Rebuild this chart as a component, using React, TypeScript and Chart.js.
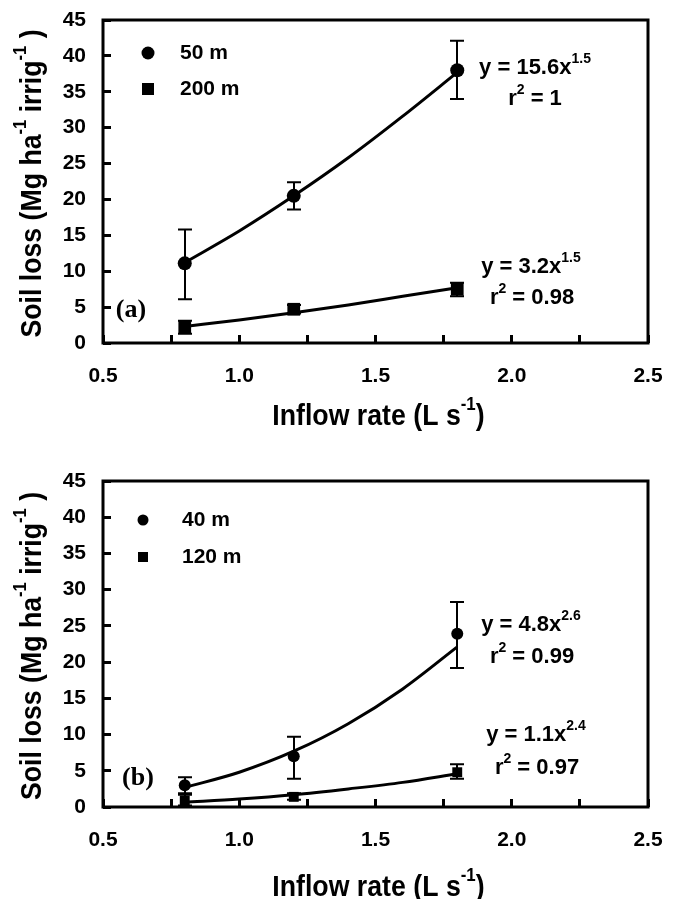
import React, { useEffect, useRef } from 'react';
import { Chart, registerables } from 'chart.js';

Chart.register(...registerables);

// ---------- data ----------
const inflowRates = [0.8, 1.2, 1.8];
const fitRates = [0.8, 1.0, 1.2, 1.4, 1.6, 1.8];

// Panel (a)
const a50Mean = [11.1, 20.5, 38.0];
const a50Low = [6.1, 18.6, 34.0];
const a50High = [15.8, 22.4, 42.1];
const a200Mean = [2.2, 4.7, 7.5];
const a200Low = [1.3, 4.1, 6.5];
const a200High = [3.1, 5.3, 8.4];
const a50Fit = [11.2, 15.6, 20.5, 25.8, 31.6, 37.7];
const a200Fit = [2.3, 3.2, 4.2, 5.3, 6.5, 7.7];

// Panel (b)
const b40Mean = [3.0, 7.0, 23.9];
const b40Low = [1.9, 3.9, 19.2];
const b40High = [4.1, 9.7, 28.3];
const b120Mean = [0.9, 1.4, 4.8];
const b120Low = [0.2, 1.0, 3.9];
const b120High = [1.7, 1.9, 5.9];
const b40Fit = [2.7, 4.8, 7.7, 11.5, 16.3, 22.1];
const b120Fit = [0.65, 1.1, 1.7, 2.5, 3.4, 4.6];

const xMin = 0.5;
const xMax = 2.5;
const xStep = 0.25;
const yMin = 0;
const yMax = 45;
const yStep = 5;

const SANS = '"Liberation Sans", Arial, sans-serif';
const SERIF = '"Liberation Serif", "Times New Roman", serif';

type Seg = { t: string; sup?: boolean };

function drawRich(
  ctx: CanvasRenderingContext2D,
  segs: Seg[],
  x: number,
  y: number,
  size: number,
  align: 'center' | 'left',
  rotate = false,
  family = SANS,
  squeeze = 1
) {
  ctx.save();
  ctx.translate(x, y);
  if (rotate) ctx.rotate(-Math.PI / 2);
  ctx.scale(squeeze, 1);
  const supSize = Math.round(size * 0.62);
  const mainFont = `bold ${size}px ${family}`;
  const supFont = `bold ${supSize}px ${family}`;
  let total = 0;
  const widths = segs.map((s) => {
    ctx.font = s.sup ? supFont : mainFont;
    const w = ctx.measureText(s.t).width;
    total += w;
    return w;
  });
  let cx = align === 'center' ? -total / 2 : 0;
  ctx.fillStyle = '#000';
  ctx.textBaseline = 'middle';
  ctx.textAlign = 'left';
  segs.forEach((s, i) => {
    ctx.font = s.sup ? supFont : mainFont;
    ctx.fillText(s.t, cx, s.sup ? -size * 0.42 : 0);
    cx += widths[i];
  });
  ctx.restore();
}

function pts(xs: number[], ys: number[]) {
  return xs.map((x, i) => ({ x, y: ys[i] }));
}

type Series = { mean: number[]; low: number[]; high: number[]; fit: number[]; label: string; r: number };

type PanelSpec = {
  height: number;
  top: number;
  bottom: number;
  left: number;
  right: number;
  xTitleY: number;
  yTitleX: number;
  s1: Series;
  s2: Series;
  legend: { x: number; y1: number; y2: number; textX: number; cr: number; sq: number };
  eqs: { segs: Seg[]; x: number; y: number }[];
  letter: { t: string; x: number; y: number };
};

const panelA: PanelSpec = {
  height: 450,
  top: 20,
  bottom: 343,
  left: 103,
  right: 648,
  xTitleY: 417,
  yTitleX: 33,
  s1: { mean: a50Mean, low: a50Low, high: a50High, fit: a50Fit, label: '50 m', r: 7 },
  s2: { mean: a200Mean, low: a200Low, high: a200High, fit: a200Fit, label: '200 m', r: 9 },
  legend: { x: 148, y1: 53, y2: 89, textX: 180, cr: 6.5, sq: 12 },
  eqs: [
    { segs: [{ t: 'y = 15.6x' }, { t: '1.5', sup: true }], x: 535, y: 68 },
    { segs: [{ t: 'r' }, { t: '2', sup: true }, { t: ' = 1' }], x: 535, y: 99 },
    { segs: [{ t: 'y = 3.2x' }, { t: '1.5', sup: true }], x: 531, y: 267 },
    { segs: [{ t: 'r' }, { t: '2', sup: true }, { t: ' = 0.98' }], x: 532, y: 298 },
  ],
  letter: { t: '(a)', x: 131, y: 310 },
};

const panelB: PanelSpec = {
  height: 449,
  top: 31,
  bottom: 357,
  left: 103,
  right: 648,
  xTitleY: 438,
  yTitleX: 33,
  s1: { mean: b40Mean, low: b40Low, high: b40High, fit: b40Fit, label: '40 m', r: 6 },
  s2: { mean: b120Mean, low: b120Low, high: b120High, fit: b120Fit, label: '120 m', r: 7 },
  legend: { x: 143, y1: 70, y2: 107, textX: 182, cr: 5.5, sq: 10 },
  eqs: [
    { segs: [{ t: 'y = 4.8x' }, { t: '2.6', sup: true }], x: 531, y: 175 },
    { segs: [{ t: 'r' }, { t: '2', sup: true }, { t: ' = 0.99' }], x: 532, y: 207 },
    { segs: [{ t: 'y = 1.1x' }, { t: '2.4', sup: true }], x: 536, y: 285 },
    { segs: [{ t: 'r' }, { t: '2', sup: true }, { t: ' = 0.97' }], x: 537, y: 318 },
  ],
  letter: { t: '(b)', x: 138, y: 328 },
};

function Panel({ spec }: { spec: PanelSpec }) {
  const ref = useRef<HTMLCanvasElement>(null);
  useEffect(() => {
    const canvas = ref.current;
    if (!canvas) return;

    const decor = {
      id: 'decor',
      afterDatasetsDraw(chart: any) {
        const ctx: CanvasRenderingContext2D = chart.ctx;
        const xs = chart.scales.x;
        const ys = chart.scales.y;
        ctx.save();
        ctx.strokeStyle = '#000';
        ctx.lineWidth = 2;
        [spec.s1, spec.s2].forEach((s) => {
          inflowRates.forEach((r, i) => {
            const px = Math.round(xs.getPixelForValue(r));
            const lo = ys.getPixelForValue(s.low[i]);
            const hi = ys.getPixelForValue(s.high[i]);
            ctx.beginPath();
            ctx.moveTo(px, lo);
            ctx.lineTo(px, hi);
            ctx.moveTo(px - 7, lo);
            ctx.lineTo(px + 7, lo);
            ctx.moveTo(px - 7, hi);
            ctx.lineTo(px + 7, hi);
            ctx.stroke();
          });
        });
        ctx.restore();
      },
      afterDraw(chart: any) {
        const ctx: CanvasRenderingContext2D = chart.ctx;
        const a = chart.chartArea;
        ctx.save();
        ctx.strokeStyle = '#000';
        ctx.lineWidth = 3;
        ctx.strokeRect(a.left, a.top, a.right - a.left, a.bottom - a.top);
        ctx.restore();

        drawRich(
          ctx,
          [{ t: 'Inflow rate (L s' }, { t: '-1', sup: true }, { t: ')' }],
          (a.left + a.right) / 2 + 3,
          spec.xTitleY,
          30,
          'center',
          false,
          SANS,
          0.89
        );
        drawRich(
          ctx,
          [
            { t: 'Soil loss (Mg ha' },
            { t: '-1', sup: true },
            { t: ' irrig' },
            { t: '-1', sup: true },
            { t: ' )' },
          ],
          spec.yTitleX,
          (a.top + a.bottom) / 2 + 2,
          29,
          'center',
          true,
          SANS,
          0.92
        );

        const L = spec.legend;
        ctx.save();
        ctx.fillStyle = '#000';
        ctx.beginPath();
        ctx.arc(L.x, L.y1, L.cr, 0, Math.PI * 2);
        ctx.fill();
        ctx.fillRect(L.x - L.sq / 2, L.y2 - L.sq / 2, L.sq, L.sq);
        ctx.restore();
        drawRich(ctx, [{ t: spec.s1.label }], L.textX, L.y1, 21, 'left');
        drawRich(ctx, [{ t: spec.s2.label }], L.textX, L.y2, 21, 'left');

        spec.eqs.forEach((e) => drawRich(ctx, e.segs, e.x, e.y, 22, 'center'));

        drawRich(ctx, [{ t: spec.letter.t }], spec.letter.x, spec.letter.y, 26, 'center', false, SERIF);
      },
    };

    const zeroPad = (s: any) => {
      s.paddingLeft = 0;
      s.paddingRight = 0;
      s.paddingTop = 0;
      s.paddingBottom = 0;
    };

    const chart = new Chart(canvas, {
      type: 'scatter',
      data: {
        datasets: [
          {
            label: spec.s1.label,
            data: pts(inflowRates, spec.s1.mean),
            pointStyle: 'circle',
            pointRadius: spec.s1.r,
            backgroundColor: '#000',
            borderColor: '#000',
            borderWidth: 0,
            showLine: false,
            order: 0,
          },
          {
            label: spec.s2.label,
            data: pts(inflowRates, spec.s2.mean),
            pointStyle: 'rect',
            pointRadius: spec.s2.r,
            backgroundColor: '#000',
            borderColor: '#000',
            borderWidth: 0,
            showLine: false,
            order: 0,
          },
          {
            label: spec.s1.label + ' fit',
            data: pts(fitRates, spec.s1.fit),
            showLine: true,
            pointRadius: 0,
            borderColor: '#000',
            borderWidth: 3,
            cubicInterpolationMode: 'monotone',
            order: 1,
          },
          {
            label: spec.s2.label + ' fit',
            data: pts(fitRates, spec.s2.fit),
            showLine: true,
            pointRadius: 0,
            borderColor: '#000',
            borderWidth: 3,
            cubicInterpolationMode: 'monotone',
            order: 1,
          },
        ],
      },
      options: {
        responsive: false,
        animation: false,
        devicePixelRatio: 1,
        layout: {
          padding: { top: spec.top, right: 680 - spec.right, left: 0, bottom: 0 },
        },
        plugins: { legend: { display: false }, tooltip: { enabled: false } },
        scales: {
          x: {
            type: 'linear',
            min: xMin,
            max: xMax,
            afterFit: (s: any) => {
              s.height = spec.height - spec.bottom;
              zeroPad(s);
            },
            afterBuildTicks: (s: any) => {
              const t = [];
              for (let v = xMin; v <= xMax + 1e-9; v += xStep) t.push({ value: Math.round(v * 100) / 100 });
              s.ticks = t;
            },
            ticks: {
              autoSkip: false,
              maxRotation: 0,
              padding: 29,
              color: '#000',
              font: { family: SANS, size: 21, weight: 'bold' },
              callback: (v: any) => {
                const n = Number(v);
                return Math.abs(n * 2 - Math.round(n * 2)) < 1e-6 ? n.toFixed(1) : '';
              },
            },
            grid: {
              drawOnChartArea: false,
              drawTicks: true,
              tickLength: -8,
              tickWidth: 3,
              tickColor: '#000',
            },
            border: { display: false },
          },
          y: {
            type: 'linear',
            min: yMin,
            max: yMax,
            afterFit: (s: any) => {
              s.width = spec.left;
              zeroPad(s);
            },
            ticks: {
              stepSize: yStep,
              padding: 25,
              color: '#000',
              font: { family: SANS, size: 21, weight: 'bold' },
            },
            grid: {
              drawOnChartArea: false,
              drawTicks: true,
              tickLength: -8,
              tickWidth: 3,
              tickColor: '#000',
            },
            border: { display: false },
          },
        },
      },
      plugins: [decor],
    } as any);
    return () => chart.destroy();
  }, [spec]);
  return <canvas ref={ref} width={680} height={spec.height} style={{ display: 'block' }} />;
}

export default function App() {
  return (
    <div style={{ position: 'absolute', left: 0, top: 0, width: 680, height: 899, background: '#fff' }}>
      <Panel spec={panelA} />
      <Panel spec={panelB} />
    </div>
  );
}
